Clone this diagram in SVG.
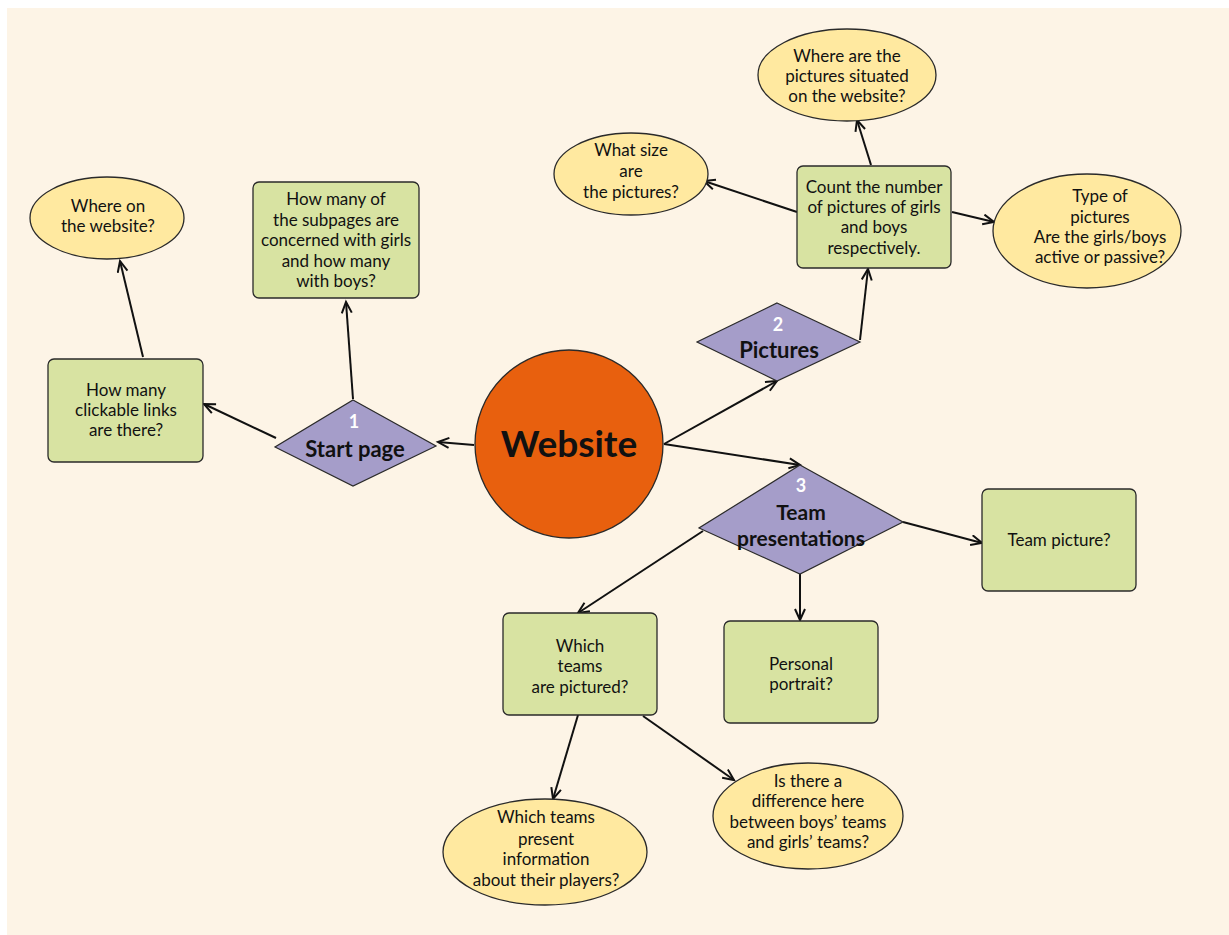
<svg xmlns="http://www.w3.org/2000/svg" width="1229" height="935" viewBox="0 0 1229 935">
<style>
.bg{fill:#FDF4E6}
.box{fill:#D8E3A2;stroke:#2a2a2a;stroke-width:1.3}
.ell{fill:#FFE9A0;stroke:#2a2a2a;stroke-width:1.3}
.dia{fill:#A59DC9;stroke:#2a2a2a;stroke-width:1.2}
.hub{fill:#E8600E;stroke:#2a2a2a;stroke-width:1.3}
.t{font-family:Lato,"Liberation Sans",sans-serif;font-size:17px;fill:#111;text-anchor:middle}
.b{font-family:Lato,"Liberation Sans",sans-serif;font-weight:bold;fill:#111;text-anchor:middle}
.n{font-family:Lato,"Liberation Sans",sans-serif;font-weight:bold;fill:#fff;text-anchor:middle;font-size:18px}
.c{stroke:#111;stroke-width:2;fill:none;marker-end:url(#arr)}
</style>
<defs>
<marker id="arr" markerUnits="userSpaceOnUse" markerWidth="16" markerHeight="16" refX="12" refY="6" orient="auto">
<path d="M1,1 L12,6 L1,11" fill="none" stroke="#111" stroke-width="2"/>
</marker>
</defs>
<rect class="bg" x="7" y="8" width="1222" height="927"/>
<g id="connectors">
<line class="c" x1="474" y1="445" x2="438" y2="442"/>
<line class="c" x1="276" y1="438" x2="204" y2="404"/>
<line class="c" x1="143" y1="357" x2="120" y2="261"/>
<line class="c" x1="353" y1="399" x2="346" y2="302"/>
<line class="c" x1="664" y1="444" x2="777" y2="381"/>
<line class="c" x1="860" y1="340" x2="868" y2="269"/>
<line class="c" x1="797" y1="212" x2="704" y2="181"/>
<line class="c" x1="871" y1="165" x2="857" y2="120"/>
<line class="c" x1="952" y1="212" x2="994" y2="222"/>
<line class="c" x1="664" y1="444" x2="800" y2="465"/>
<line class="c" x1="903" y1="522" x2="982" y2="543"/>
<line class="c" x1="800" y1="574" x2="800" y2="620"/>
<line class="c" x1="703" y1="531" x2="578" y2="613"/>
<line class="c" x1="578" y1="715" x2="553" y2="799"/>
<line class="c" x1="643" y1="716" x2="734" y2="780"/>
</g>
<g id="website">
<circle class="hub" cx="569" cy="444" r="94"/>
<text class="b" x="569" y="457" font-size="37">Website</text>
</g>
<g id="start-page">
<polygon class="dia" points="353,400 436,446 353,486 275,447"/>
<text class="n" x="354" y="428">1</text>
<text class="b" x="355" y="457" font-size="22">Start page</text>
</g>
<g id="pictures">
<polygon class="dia" points="777,303 860,342 777,381 697,342"/>
<text class="n" x="778" y="331">2</text>
<text class="b" x="779" y="358" font-size="22">Pictures</text>
</g>
<g id="team-presentations">
<polygon class="dia" points="800,465 903,522 800,574 699,528"/>
<text class="n" x="801" y="492">3</text>
<text class="b" x="801" y="520" font-size="21">Team</text>
<text class="b" x="801" y="546" font-size="21">presentations</text>
</g>
<g id="clickable-links">
<rect class="box" x="48" y="359" width="155" height="103" rx="6"/>
<text class="t" x="126" y="396">How many</text>
<text class="t" x="126" y="416">clickable links</text>
<text class="t" x="126" y="436">are there?</text>
</g>
<g id="where-on-website">
<ellipse class="ell" cx="107" cy="218" rx="77" ry="41"/>
<text class="t" x="108" y="212">Where on</text>
<text class="t" x="108" y="232">the website?</text>
</g>
<g id="subpages">
<rect class="box" x="253" y="182" width="166" height="116" rx="6"/>
<text class="t" x="336" y="205">How many of</text>
<text class="t" x="336" y="226">the subpages are</text>
<text class="t" x="336" y="246">concerned with girls</text>
<text class="t" x="336" y="267">and how many</text>
<text class="t" x="336" y="287">with boys?</text>
</g>
<g id="count-pictures">
<rect class="box" x="797" y="166" width="154" height="102" rx="6"/>
<text class="t" x="874" y="193">Count the number</text>
<text class="t" x="874" y="213">of pictures of girls</text>
<text class="t" x="874" y="233">and boys</text>
<text class="t" x="874" y="254">respectively.</text>
</g>
<g id="where-pictures">
<ellipse class="ell" cx="847" cy="75" rx="89" ry="46"/>
<text class="t" x="847" y="62">Where are the</text>
<text class="t" x="847" y="82">pictures situated</text>
<text class="t" x="847" y="102">on the website?</text>
</g>
<g id="what-size">
<ellipse class="ell" cx="631" cy="174" rx="77" ry="41"/>
<text class="t" x="631" y="156">What size</text>
<text class="t" x="631" y="177">are</text>
<text class="t" x="631" y="198">the pictures?</text>
</g>
<g id="type-of-pictures">
<ellipse class="ell" cx="1087" cy="231" rx="94" ry="57"/>
<text class="t" x="1100" y="202">Type of</text>
<text class="t" x="1100" y="223">pictures</text>
<text class="t" x="1100" y="243">Are the girls/boys</text>
<text class="t" x="1100" y="263">active or passive?</text>
</g>
<g id="team-picture">
<rect class="box" x="982" y="489" width="154" height="102" rx="6"/>
<text class="t" x="1059" y="546">Team picture?</text>
</g>
<g id="personal-portrait">
<rect class="box" x="724" y="621" width="154" height="102" rx="6"/>
<text class="t" x="801" y="670">Personal</text>
<text class="t" x="801" y="690">portrait?</text>
</g>
<g id="which-teams-pictured">
<rect class="box" x="503" y="613" width="154" height="102" rx="6"/>
<text class="t" x="580" y="652">Which</text>
<text class="t" x="580" y="672">teams</text>
<text class="t" x="580" y="693">are pictured?</text>
</g>
<g id="which-teams-present">
<ellipse class="ell" cx="545" cy="852" rx="102" ry="53"/>
<text class="t" x="546" y="823">Which teams</text>
<text class="t" x="546" y="845">present</text>
<text class="t" x="546" y="865">information</text>
<text class="t" x="546" y="886">about their players?</text>
</g>
<g id="difference">
<ellipse class="ell" cx="808" cy="816" rx="95" ry="53"/>
<text class="t" x="808" y="787">Is there a</text>
<text class="t" x="808" y="807">difference here</text>
<text class="t" x="808" y="828">between boys’ teams</text>
<text class="t" x="808" y="848">and girls’ teams?</text>
</g>
</svg>
